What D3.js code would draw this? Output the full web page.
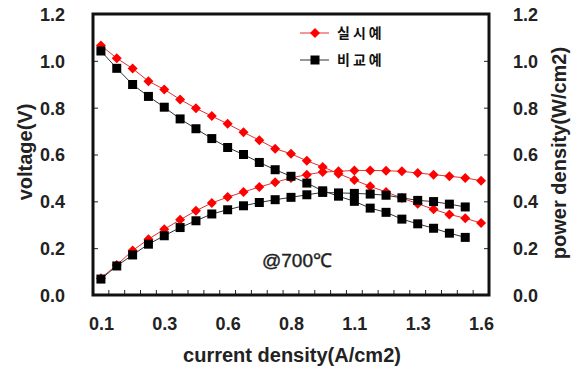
<!DOCTYPE html>
<html>
<head>
<meta charset="utf-8">
<script src="https://cdn.jsdelivr.net/npm/d3@7"></script>
<style>
  body { margin: 0; background: #fff; }
  .tick text { font-family: "Liberation Sans", Arial, sans-serif; font-weight: bold; font-size: 18px; fill: #222; }
  .title { font-family: "Liberation Sans", Arial, sans-serif; font-weight: bold; font-size: 20px; fill: #222; }
  .legend { font-family: "Noto Sans CJK KR", sans-serif; font-weight: bold; font-size: 14px; letter-spacing: 3px; fill: #111; }
</style>
</head>
<body>
<div id="chart"></div>
<script>
var width = 580, height = 369;

// current density categories (A/cm2), one per measured point
var currents = ["0.10","0.16","0.23","0.29","0.35","0.41","0.48","0.54","0.60","0.66",
                "0.73","0.79","0.85","0.91","0.98","1.04","1.10","1.16","1.23","1.29",
                "1.35","1.41","1.48","1.54","1.60"];
var xTickCats   = ["0.10","0.35","0.60","0.85","1.10","1.35","1.60"];
var xTickLabels = ["0.1","0.3","0.6","0.8","1.1","1.3","1.6"];
var yTicks = [0, 0.2, 0.4, 0.6, 0.8, 1.0, 1.2];

// 실시예 (example)
var exVoltage = [1.066,1.011,0.967,0.913,0.878,0.835,0.797,0.764,0.731,0.695,
                 0.661,0.625,0.603,0.573,0.547,0.518,0.491,0.464,0.440,0.414,
                 0.390,0.366,0.344,0.328,0.307];
var exPower   = [0.072,0.128,0.190,0.238,0.281,0.321,0.360,0.393,0.418,0.440,
                 0.461,0.481,0.500,0.514,0.525,0.528,0.532,0.532,0.531,0.528,
                 0.521,0.514,0.507,0.500,0.488];
// 비교예 (comparative example)
var cmpVoltage = [1.042,0.968,0.899,0.848,0.802,0.752,0.710,0.668,0.630,0.600,
                  0.566,0.535,0.507,0.478,0.445,0.422,0.400,0.371,0.353,0.324,
                  0.304,0.285,0.264,0.246];
var cmpPower   = [0.068,0.124,0.171,0.217,0.253,0.288,0.317,0.346,0.364,0.381,
                  0.395,0.407,0.417,0.428,0.438,0.436,0.434,0.431,0.426,0.415,
                  0.404,0.399,0.388,0.376];

var plotL = 93, plotR = 489, plotT = 14, plotB = 295;

var svg = d3.select("#chart").append("svg")
            .attr("width", width)
            .attr("height", height);

var xb = d3.scaleBand().domain(currents).range([plotL, plotR]).padding(0);
var xc = function(c) { return xb(c) + xb.bandwidth() / 2; };
var y = d3.scaleLinear().domain([0, 1.2]).range([plotB, plotT]);

// x tick marks sit between categories
var edges = currents.map(function(c) { return xb(c); }).slice(1);
svg.append("g").selectAll("line")
   .data(edges)
   .enter().append("line")
   .attr("x1", function(d) { return d; })
   .attr("x2", function(d) { return d; })
   .attr("y1", plotB)
   .attr("y2", plotB - 5)
   .attr("stroke", "#222")
   .attr("stroke-width", 1);

// x labels
var xp = d3.scalePoint().domain(currents).range([xc(currents[0]), xc(currents[currents.length - 1])]);
var xAxis = svg.append("g")
   .attr("transform", "translate(0," + plotB + ")")
   .call(d3.axisBottom(xp).tickValues(xTickCats).tickSize(0).tickPadding(22)
           .tickFormat(function(d, i) { return xTickLabels[i]; }));
xAxis.select(".domain").remove();

// y axes with inward ticks
var yl = svg.append("g")
   .attr("transform", "translate(" + plotL + ",0)")
   .call(d3.axisLeft(y).tickValues(yTicks).tickSize(-5).tickPadding(28).tickFormat(d3.format(".1f")));
yl.select(".domain").remove();
yl.selectAll(".tick line").attr("stroke", "#222");
yl.selectAll(".tick text").attr("dy", "0.36em");

var yr = svg.append("g")
   .attr("transform", "translate(" + plotR + ",0)")
   .call(d3.axisRight(y).tickValues(yTicks).tickSize(-5).tickPadding(24).tickFormat(d3.format(".1f")));
yr.select(".domain").remove();
yr.selectAll(".tick line").attr("stroke", "#222");
yr.selectAll(".tick text").attr("dy", "0.36em");

// frame
svg.append("rect")
   .attr("x", plotL).attr("y", plotT)
   .attr("width", plotR - plotL).attr("height", plotB - plotT)
   .attr("fill", "none")
   .attr("stroke", "#111")
   .attr("stroke-width", 3);

var line = d3.line()
   .x(function(d, i) { return xc(currents[i]); })
   .y(function(d) { return y(d); });

var series = [
  { values: exVoltage,  color: "#ff0000", line: "#e23030", shape: "diamond" },
  { values: exPower,    color: "#ff0000", line: "#e23030", shape: "diamond" },
  { values: cmpVoltage, color: "#000000", line: "#333333", shape: "square" },
  { values: cmpPower,   color: "#000000", line: "#333333", shape: "square" }
];

var diamond = "M0,-5L5,0L0,5L-5,0Z";
var square = "M-4.5,-4.5H4.5V4.5H-4.5Z";

series.forEach(function(s) {
  svg.append("path")
     .datum(s.values)
     .attr("d", line)
     .attr("fill", "none")
     .attr("stroke", s.line)
     .attr("stroke-width", 1);
  svg.append("g").selectAll("path")
     .data(s.values)
     .enter().append("path")
     .attr("transform", function(d, i) {
       return "translate(" + xc(currents[i]) + "," + y(d) + ")";
     })
     .attr("d", s.shape == "diamond" ? diamond : square)
     .attr("fill", s.color);
});

// legend
var legendItems = [
  { name: "실시예", color: "#ff0000", line: "#e23030", shape: diamond, y: 33 },
  { name: "비교예", color: "#000000", line: "#333333", shape: square, y: 60 }
];
var lg = svg.append("g");
legendItems.forEach(function(d) {
  lg.append("line")
    .attr("x1", 300).attr("x2", 329)
    .attr("y1", d.y).attr("y2", d.y)
    .attr("stroke", d.line).attr("stroke-width", 1);
  lg.append("path")
    .attr("transform", "translate(315," + d.y + ")")
    .attr("d", d.shape)
    .attr("fill", d.color);
  lg.append("text")
    .attr("class", "legend")
    .attr("x", 337).attr("y", d.y)
    .attr("dy", "0.35em")
    .text(d.name);
});

// annotation
svg.append("text")
   .attr("x", 297).attr("y", 267)
   .attr("text-anchor", "middle")
   .style("font-family", "'Liberation Sans', Arial, sans-serif")
   .style("font-size", "19px")
   .style("stroke", "#222")
   .style("stroke-width", 0.4)
   .style("fill", "#222")
   .text("@700℃");

// axis titles
svg.append("text")
   .attr("class", "title")
   .attr("text-anchor", "middle")
   .attr("transform", "translate(32,152) rotate(-90)")
   .text("voltage(V)");

svg.append("text")
   .attr("class", "title")
   .attr("text-anchor", "middle")
   .attr("transform", "translate(566,153) rotate(-90)")
   .text("power density(W/cm2)");

svg.append("text")
   .attr("class", "title")
   .attr("text-anchor", "middle")
   .attr("x", 292).attr("y", 362)
   .text("current density(A/cm2)");
</script>
</body>
</html>
